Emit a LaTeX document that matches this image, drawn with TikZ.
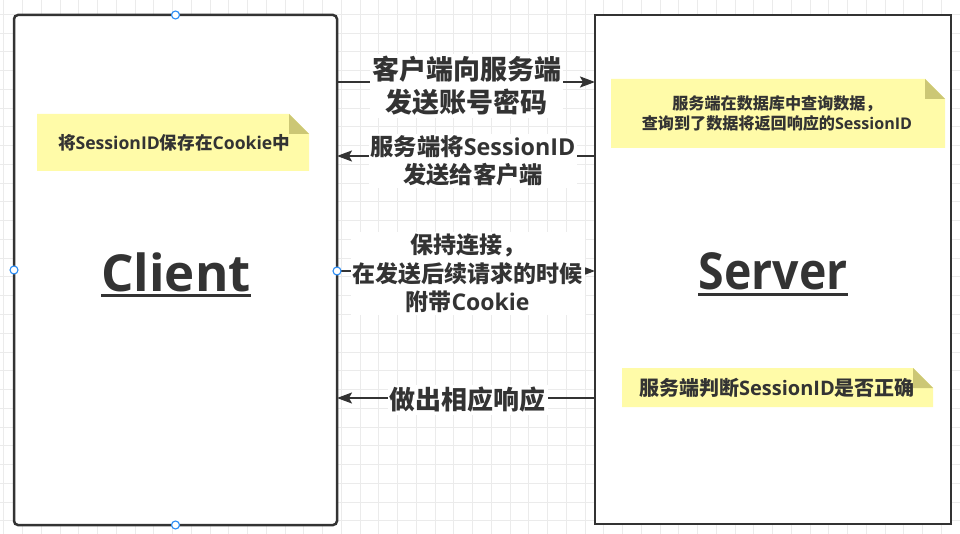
\documentclass[tikz,border=0pt]{standalone}
\usepackage{fontspec}
\usetikzlibrary{arrows.meta}
\newfontfamily\cjk{Noto Sans CJK SC}
\newfontfamily\lat{Open Sans}
\newcommand\lt[1]{{\lat\bfseries #1}}
\definecolor{ink}{HTML}{333333}
\definecolor{gridc}{HTML}{EBEBEB}
\definecolor{noteY}{HTML}{FFFBA8}
\definecolor{noteF}{HTML}{CCC775}
\definecolor{hand}{HTML}{2A8CF5}
\newcommand\drawnote[4]{%
  \fill[noteY] (#1,#2) -- (#3-20,#2) -- (#3,#2+20) -- (#3,#4) -- (#1,#4) -- cycle;
  \fill[noteF] (#3-20,#2) -- (#3-20,#2+20) -- (#3,#2+20) -- cycle;}
\begin{document}
\begin{tikzpicture}[x=1pt,y=-1pt,
  box/.style={draw=ink, line width=2.5pt, fill=white, inner sep=0pt, outer sep=0pt},
  conn/.style={draw=ink, line width=2pt, -{Stealth[length=15pt,width=11pt,inset=3pt]}},
  lbl/.style={fill=white, text=ink, align=center, inner sep=2pt},
  title/.style={text=ink, inner sep=0pt, font=\lat\bfseries\fontsize{51}{60}\selectfont},
  notetext/.style={text=ink, align=center, inner sep=0pt},
  handle/.style={circle, draw=hand, fill=white, line width=1.1pt, minimum size=8pt, inner sep=0pt}
]
\useasboundingbox (0,0) rectangle (960,534);
\fill[white] (0,0) rectangle (960,534);
% grid
\foreach \i in {0,...,51} \draw[gridc, line width=1pt] (3.95+\i*18.75,0) -- (3.95+\i*18.75,534);
\foreach \j in {0,...,28} \draw[gridc, line width=1pt] (0,14.5+\j*18.75) -- (960,14.5+\j*18.75);
% boxes
\node[box, rounded corners=4pt, minimum width=323pt, minimum height=510pt] (client) at (175.5,270) {};
\node[box, minimum width=356pt, minimum height=509pt] (server) at (773,269.5) {};
% notes
\drawnote{37}{114}{309}{171}
\node[notetext, font=\cjk\bfseries\fontsize{17.6}{20}\selectfont] (n1) at (174,143) {将\lt{SessionID}保存在\lt{Cookie}中};
\drawnote{611}{79}{945}{148}
\node[notetext, font=\cjk\bfseries\fontsize{16.1}{20}\selectfont] (n2) at (777,113) {服务端在数据库中查询数据，\\查询到了数据将返回响应的\lt{SessionID}};
\drawnote{622}{368}{933}{407}
\node[notetext, font=\cjk\bfseries\fontsize{20}{22}\selectfont] (n3) at (777,388) {服务端判断\lt{SessionID}是否正确};
% connectors
\draw[conn] (client.east |- 0,82) -- (server.west |- 0,82);
\draw[conn] (server.west |- 0,156) -- (client.east |- 0,156);
\draw[conn] (client.east |- 0,271) -- (server.west |- 0,271);
\draw[conn] (server.west |- 0,398) -- (client.east |- 0,398);
% labels
\node[lbl, font=\cjk\bfseries\fontsize{27}{33}\selectfont] (l1) at (466.5,86) {客户端向服务端\\发送账号密码};
\node[lbl, font=\cjk\bfseries\fontsize{23.3}{28}\selectfont] (l2) at (473,161) {服务端将\lt{SessionID}\\发送给客户端};
\node[lbl, font=\cjk\bfseries\fontsize{23}{28.5}\selectfont] (l3) at (467.5,273.5) {保持连接，\\在发送后续请求的时候\\附带\lt{Cookie}};
\node[lbl, font=\cjk\bfseries\fontsize{26}{30}\selectfont] (l4) at (467.5,400) {做出相应响应};
% titles
\node[title, anchor=base] (ct) at (176,291) {Client};
\draw[ink, line width=3pt] ([yshift=-4.5pt]ct.base west) -- ([yshift=-4.5pt]ct.base east);
\node[title, anchor=base] (st) at (773,290) {\scalebox{0.91}[1]{Server}};
\draw[ink, line width=3pt] ([yshift=-4.5pt]st.base west) -- ([yshift=-4.5pt]st.base east);
% handles
\node[handle] (h1) at (client.north) {};
\node[handle] (h2) at (client.west) {};
\node[handle] (h3) at (client.east |- 0,271) {};
\node[handle] (h4) at (client.south) {};
\end{tikzpicture}
\end{document}
